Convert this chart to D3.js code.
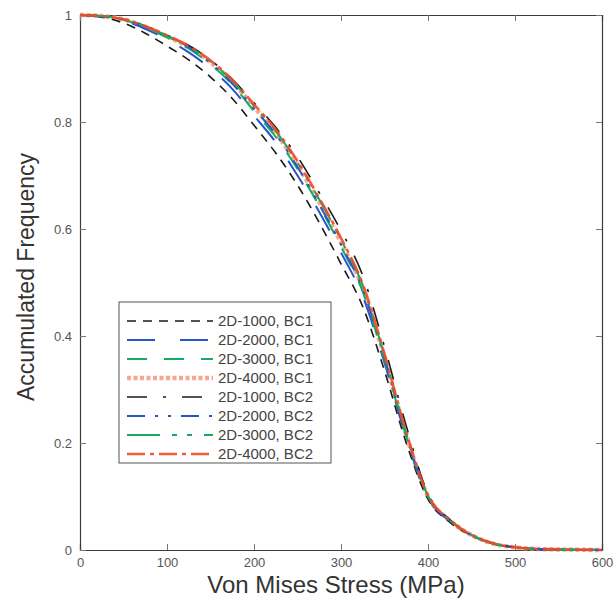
<!DOCTYPE html>
<html>
<head>
<meta charset="utf-8">
<script src="https://cdn.jsdelivr.net/npm/d3@7"></script>
<style>
  html, body { margin: 0; padding: 0; background: #fff; }
  svg { display: block; font-family: "Liberation Sans", Arial, sans-serif; }
</style>
</head>
<body>
<svg id="chart" width="616" height="602"></svg>
<script>
// ---- data ----
const stress = [0, 25, 50, 75, 100, 125, 150, 175, 200, 225, 250, 275, 300, 325, 350, 375, 400, 425, 450, 475, 500, 525, 550, 575, 600];

const freq_2D1000_BC1 = [1.0, 0.996, 0.985, 0.966, 0.942, 0.916, 0.884, 0.844, 0.794, 0.742, 0.682, 0.612, 0.535, 0.455, 0.335, 0.2, 0.095, 0.052, 0.027, 0.012, 0.005, 0.002, 0.001, 0.0005, 0];
const freq_2D2000_BC1 = [1.0, 0.997, 0.99, 0.974, 0.954, 0.93, 0.9, 0.862, 0.812, 0.762, 0.7, 0.632, 0.556, 0.474, 0.35, 0.21, 0.098, 0.054, 0.028, 0.012, 0.005, 0.002, 0.001, 0.0005, 0];
const freq_2D3000_BC1 = [1.0, 0.998, 0.991, 0.977, 0.958, 0.937, 0.908, 0.87, 0.82, 0.772, 0.712, 0.643, 0.567, 0.483, 0.355, 0.212, 0.1, 0.055, 0.028, 0.012, 0.005, 0.002, 0.001, 0.0005, 0];
const freq_2D4000_BC1 = [1.0, 0.998, 0.992, 0.978, 0.96, 0.94, 0.912, 0.875, 0.828, 0.78, 0.72, 0.65, 0.575, 0.49, 0.36, 0.215, 0.1, 0.055, 0.028, 0.012, 0.005, 0.002, 0.001, 0.0005, 0];
const freq_2D1000_BC2 = [1.0, 0.998, 0.992, 0.979, 0.962, 0.943, 0.916, 0.88, 0.836, 0.79, 0.735, 0.668, 0.597, 0.513, 0.38, 0.232, 0.105, 0.057, 0.029, 0.012, 0.005, 0.002, 0.001, 0.0005, 0];
const freq_2D2000_BC2 = [1.0, 0.998, 0.992, 0.978, 0.96, 0.94, 0.91, 0.872, 0.825, 0.777, 0.716, 0.646, 0.571, 0.487, 0.36, 0.215, 0.1, 0.055, 0.028, 0.012, 0.005, 0.002, 0.001, 0.0005, 0];
const freq_2D3000_BC2 = [1.0, 0.998, 0.992, 0.979, 0.961, 0.941, 0.913, 0.877, 0.83, 0.783, 0.724, 0.655, 0.58, 0.494, 0.363, 0.218, 0.101, 0.055, 0.028, 0.012, 0.005, 0.002, 0.001, 0.0005, 0];
const freq_2D4000_BC2 = [1.0, 0.998, 0.992, 0.979, 0.962, 0.942, 0.915, 0.879, 0.833, 0.786, 0.727, 0.658, 0.583, 0.497, 0.366, 0.22, 0.102, 0.056, 0.028, 0.012, 0.005, 0.002, 0.001, 0.0005, 0];

const seriesNames = ["2D-1000, BC1", "2D-2000, BC1", "2D-3000, BC1", "2D-4000, BC1",
                     "2D-1000, BC2", "2D-2000, BC2", "2D-3000, BC2", "2D-4000, BC2"];
const xTicks = [0, 100, 200, 300, 400, 500, 600];
const yTicks = [0, 0.2, 0.4, 0.6, 0.8, 1];
const xTitle = "Von Mises Stress (MPa)";
const yTitle = "Accumulated Frequency";

// ---- styles ----
const seriesValues = [freq_2D1000_BC1, freq_2D2000_BC1, freq_2D3000_BC1, freq_2D4000_BC1,
                      freq_2D1000_BC2, freq_2D2000_BC2, freq_2D3000_BC2, freq_2D4000_BC2];
const styles = [
  { color: "#1a1a1a", width: 1.6, dash: "9 7", opacity: 1 },
  { color: "#2a55c8", width: 2.0, dash: "28 25", opacity: 1 },
  { color: "#12ad62", width: 2.0, dash: "20 17", opacity: 1 },
  { color: "#f7896a", width: 4.5, dash: "4 2.5", opacity: 0.75 },
  { color: "#1a1a1a", width: 1.6, dash: "20 16 3 16", opacity: 1 },
  { color: "#2a55c8", width: 2.0, dash: "18 10 3 10 3 10", opacity: 1 },
  { color: "#12ad62", width: 2.0, dash: "33 12 5 10 5 12", opacity: 1 },
  { color: "#f04a28", width: 2.6, dash: "18 5 4 5", opacity: 0.9 }
];
const drawOrder = [3, 0, 4, 1, 2, 5, 6, 7];

const svg = d3.select("#chart");
svg.append("rect").attr("width", 616).attr("height", 602).attr("fill", "#fff");

const pL = 80, pR = 602, pT = 15, pB = 550;
const x = d3.scaleLinear().domain([0, 600]).range([pL, pR]);
const y = d3.scaleLinear().domain([0, 1]).range([pB, pT]);

const fmt = d => d === 0 ? "0" : d === 1 ? "1" : d3.format(".1f")(d);
const axisColor = "#3c3c3c";
const tickTextColor = "#555";

const gx = svg.append("g").attr("transform", `translate(0,${pB})`)
  .call(d3.axisBottom(x).tickValues(xTicks).tickSize(-6).tickPadding(8).tickFormat(d3.format("d")));
const gy = svg.append("g").attr("transform", `translate(${pL},0)`)
  .call(d3.axisLeft(y).tickValues(yTicks).tickSize(-6).tickPadding(8).tickFormat(fmt));
const gt = svg.append("g").attr("transform", `translate(0,${pT})`)
  .call(d3.axisTop(x).tickValues(xTicks).tickSize(-6).tickFormat(""));
const gr = svg.append("g").attr("transform", `translate(${pR},0)`)
  .call(d3.axisRight(y).tickValues(yTicks).tickSize(-6).tickFormat(""));

[gx, gy, gt, gr].forEach(g => {
  g.select(".domain").attr("stroke", axisColor).attr("stroke-width", 1.2);
  g.selectAll(".tick line").attr("stroke", "#777").attr("stroke-width", 1);
  g.selectAll(".tick text").attr("fill", tickTextColor).attr("font-size", 13)
    .attr("font-family", "Liberation Sans, Arial, sans-serif");
});

const line = d3.line()
  .x((d, i) => x(stress[i]))
  .y(d => y(d))
  .curve(d3.curveMonotoneX);

const curves = svg.append("g");
drawOrder.forEach(k => {
  const s = styles[k];
  curves.append("path")
    .datum(seriesValues[k])
    .attr("d", line)
    .attr("fill", "none")
    .attr("stroke", s.color)
    .attr("stroke-width", s.width)
    .attr("stroke-dasharray", s.dash)
    .attr("stroke-opacity", s.opacity)
    .attr("stroke-linecap", "butt");
});

const lg = svg.append("g");
const lgX = 119, lgY = 302, lgW = 212, lgH = 161, rowH = 19;
lg.append("rect").attr("x", lgX).attr("y", lgY).attr("width", lgW).attr("height", lgH)
  .attr("fill", "#fff").attr("stroke", "#555").attr("stroke-width", 1);
seriesNames.forEach((name, k) => {
  const s = styles[k];
  const cy = lgY + 19 + k * rowH;
  lg.append("line").attr("x1", lgX + 8).attr("x2", lgX + 94)
    .attr("y1", cy).attr("y2", cy)
    .attr("stroke", s.color).attr("stroke-width", s.width)
    .attr("stroke-dasharray", s.dash).attr("stroke-opacity", s.opacity);
  lg.append("text").attr("x", lgX + 99).attr("y", cy).attr("dy", "0.36em")
    .attr("font-size", 15).attr("fill", "#444").text(name);
});

svg.append("text").attr("x", 336).attr("y", 593)
  .attr("text-anchor", "middle").attr("font-size", 24).attr("fill", "#333").text(xTitle);
svg.append("text").attr("transform", `translate(34,277) rotate(-90)`)
  .attr("text-anchor", "middle").attr("font-size", 23).attr("fill", "#333").text(yTitle);
</script>
</body>
</html>
